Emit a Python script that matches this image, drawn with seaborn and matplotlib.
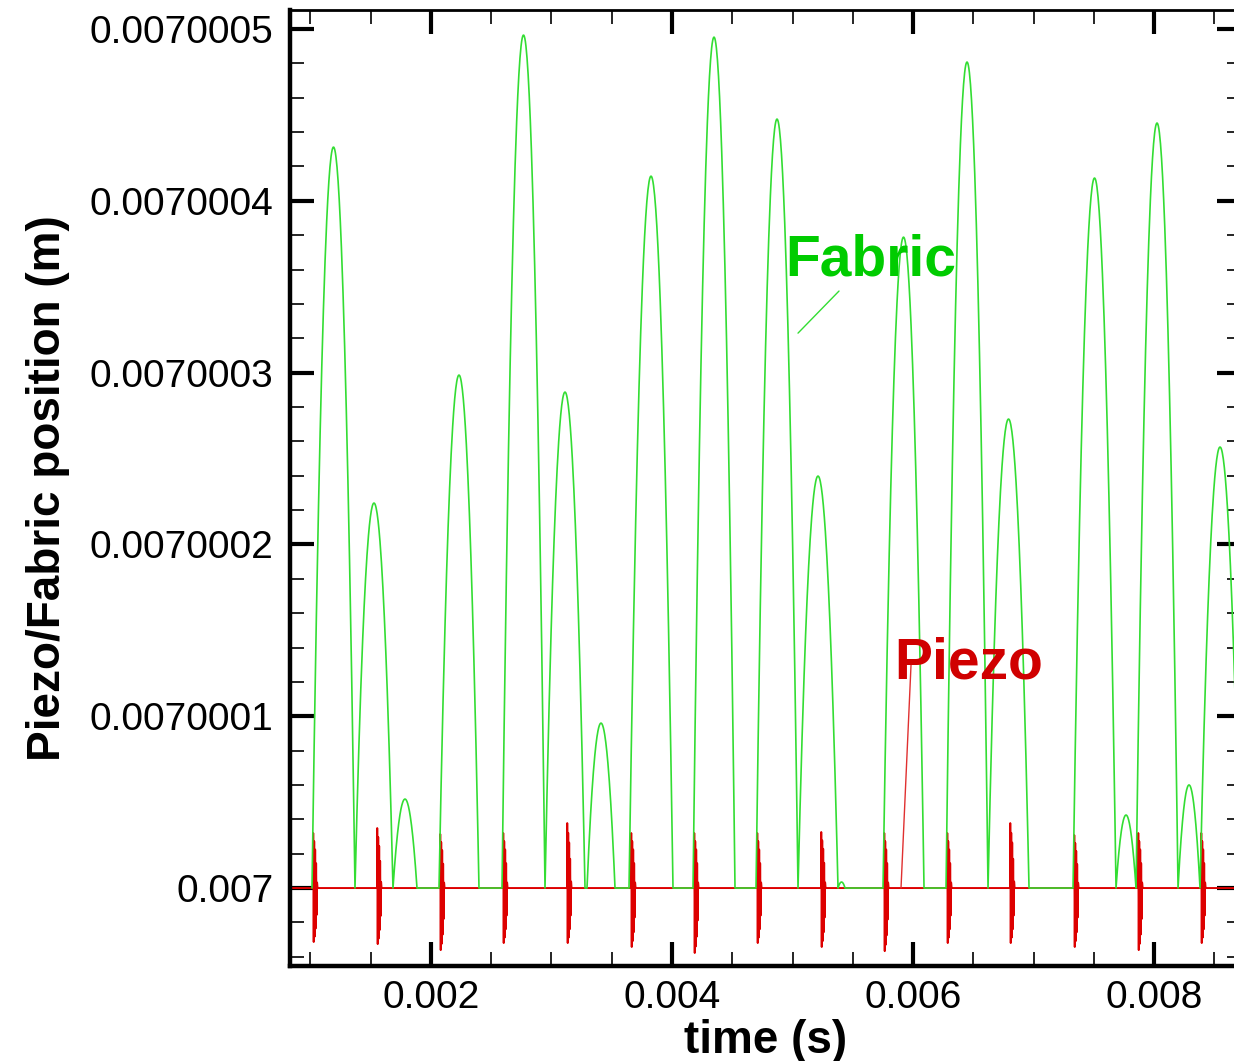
import numpy as np
import pandas as pd
import seaborn as sns
import matplotlib
matplotlib.use("Agg")
import matplotlib.pyplot as plt
from matplotlib.ticker import FixedLocator, FuncFormatter, MultipleLocator

# ---- Fabric flight arcs: launch time, landing time, apex position ----
fabric_launch = [0.0010124, 0.0013693, 0.0016846, 0.0020664, 0.0025892,
                 0.0029461, 0.0032946, 0.0036432, 0.0041743, 0.0046971,
                 0.0050456, 0.0053776, 0.0057510, 0.0062739, 0.0066224,
                 0.0073278, 0.0076846, 0.0078506, 0.0081992, 0.0083817]
fabric_land = [0.0013693, 0.0016846, 0.0018838, 0.0023983, 0.0029461,
               0.0032780, 0.0035270, 0.0040083, 0.0045228, 0.0050456,
               0.0053776, 0.0054357, 0.0060913, 0.0066224, 0.0069627,
               0.0076846, 0.0078506, 0.0081992, 0.0083817, 0.0087137]
fabric_apex = [0.0070004313, 0.0070002241, 0.0070000518, 0.0070002986, 0.0070004965,
               0.0070002887, 0.0070000960, 0.0070004144, 0.0070004953, 0.0070004476,
               0.0070002398, 0.0070000035, 0.0070003789, 0.0070004808, 0.0070002730,
               0.0070004133, 0.0070000425, 0.0070004453, 0.0070000600, 0.0070002567]
rest_position = 0.007

# ---- Piezo impacts: impact time, upper and lower swing ----
piezo_hit = [0.0010207, 0.0015519, 0.0020747, 0.0025975, 0.0031286,
             0.0036598, 0.0041826, 0.0047054, 0.0052365, 0.0057593,
             0.0062822, 0.0068050, 0.0073361, 0.0078672, 0.0083900]
piezo_max = [0.0070000320, 0.0070000349, 0.0070000314, 0.0070000320, 0.0070000378,
             0.0070000320, 0.0070000320, 0.0070000320, 0.0070000326, 0.0070000320,
             0.0070000320, 0.0070000378, 0.0070000308, 0.0070000320, 0.0070000320]
piezo_min = [0.0069999686, 0.0069999674, 0.0069999639, 0.0069999680, 0.0069999680,
             0.0069999657, 0.0069999622, 0.0069999680, 0.0069999657, 0.0069999633,
             0.0069999680, 0.0069999680, 0.0069999657, 0.0069999639, 0.0069999680]
piezo_record = [0.0008, 0.0088]
# ringing of the piezo after each hit: time offsets and swing fractions
ring_dt = [0.0, 2e-6, 6e-6, 10e-6, 14e-6, 18e-6, 22e-6, 26e-6, 30e-6, 34e-6, 38e-6]
ring_frac = [0.0, 1.0, -1.0, 0.85, -0.9, 0.7, -0.75, 0.45, -0.5, 0.1, 0.0]

xticks_major = [0.002, 0.004, 0.006, 0.008]
yticks_major = [0.007, 0.0070001, 0.0070002, 0.0070003, 0.0070004, 0.0070005]

# ---- build the series ----
ft, fy = [], []
for t0, t1, ya in zip(fabric_launch, fabric_land, fabric_apex):
    tt = np.linspace(t0, t1, 80)
    mid, half = 0.5 * (t0 + t1), 0.5 * (t1 - t0)
    ft.extend(tt)
    fy.extend(rest_position + (ya - rest_position) * (1 - ((tt - mid) / half) ** 2))
fabric = pd.DataFrame({"time": ft, "position": fy})

pt, py = [piezo_record[0]], [rest_position]
for th, hi, lo in zip(piezo_hit, piezo_max, piezo_min):
    for dt, fr in zip(ring_dt, ring_frac):
        pt.append(th + dt)
        amp = (hi - rest_position) if fr >= 0 else (rest_position - lo)
        py.append(rest_position + fr * amp)
pt.append(piezo_record[1])
py.append(rest_position)
piezo = pd.DataFrame({"time": pt, "position": py})

# ---- figure ----
sns.set_style("ticks", {"axes.edgecolor": "black", "xtick.color": "black",
                        "ytick.color": "black", "text.color": "black",
                        "axes.labelcolor": "black"})
plt.rcParams["font.family"] = ["Liberation Sans", "DejaVu Sans"]

fig = plt.figure(figsize=(12.34, 10.61), dpi=100)
ax = fig.add_axes([0.2350, 0.0895, 0.7707, 0.9011])

red = "#DD0000"
green_line = "#33DD33"
sns.lineplot(data=piezo, x="time", y="position", ax=ax, color=red, lw=1.4,
             sort=False, estimator=None)
sns.lineplot(data=fabric, x="time", y="position", ax=ax, color=green_line, lw=1.2,
             sort=False, estimator=None)

ax.set_xlim(0.0008299, 0.0087220)
ax.set_ylim(0.0069999546, 0.0070005111)

ax.xaxis.set_major_locator(FixedLocator(xticks_major))
ax.xaxis.set_minor_locator(MultipleLocator(0.0005))
ax.yaxis.set_major_locator(FixedLocator(yticks_major))
ax.yaxis.set_minor_locator(MultipleLocator(2e-8))
ax.xaxis.set_major_formatter(FuncFormatter(lambda v, p: f"{v:.3f}"))
ax.yaxis.set_major_formatter(FuncFormatter(lambda v, p: f"{v:.7f}".rstrip("0")))

ax.tick_params(which="both", direction="in", top=True, right=True,
               colors="black", labelcolor="black")
ax.tick_params(which="major", length=17, width=3, labelsize=28, pad=12)
ax.tick_params(which="minor", length=10, width=1.2)
ax.tick_params(axis="x", which="major", pad=10)

for side in ["left", "bottom"]:
    ax.spines[side].set_linewidth(3.2)
    ax.spines[side].set_color("black")
for side in ["top", "right"]:
    ax.spines[side].set_linewidth(2.0)
    ax.spines[side].set_color("black")

ax.set_xlabel("time (s)", fontsize=33, fontweight="bold", labelpad=2, color="black")
ax.set_ylabel("Piezo/Fabric position (m)", fontsize=33, fontweight="bold",
              labelpad=14, color="black")

# series labels with leader lines
ax.text(0.0049378, 0.0070003568, "Fabric", color="#00CC00", fontsize=41,
        fontweight="bold", ha="left", va="baseline")
ax.plot([0.0050456, 0.0053859], [0.0070003230, 0.0070003475], color=green_line, lw=1.0)
ax.text(0.0058423, 0.0070001222, "Piezo", color="#D00000", fontsize=41,
        fontweight="bold", ha="left", va="baseline")
ax.plot([0.0059834, 0.0059004], [0.0070001298, 0.007], color="#E03030", lw=1.0)

fig.savefig("out.png", dpi=100)
